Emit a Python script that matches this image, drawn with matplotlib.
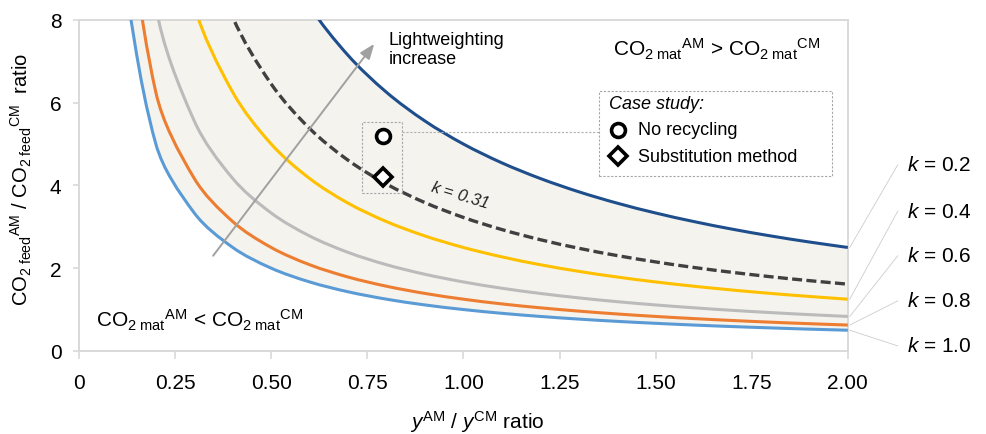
import math
import matplotlib
matplotlib.use("Agg")
import matplotlib.pyplot as plt
from matplotlib.patches import Rectangle, PathPatch
from matplotlib.path import Path

plt.rcParams['font.family'] = ['Liberation Sans', 'DejaVu Sans']
plt.rcParams['mathtext.fontset'] = 'custom'
plt.rcParams['mathtext.rm'] = 'Liberation Sans'
plt.rcParams['mathtext.it'] = 'Liberation Sans:italic'
plt.rcParams['mathtext.bf'] = 'Liberation Sans:bold'
plt.rcParams['mathtext.sf'] = 'Liberation Sans'

# ---------------- data ----------------
x_ratio = [0.1, 0.2, 0.3, 0.4, 0.5, 0.6, 0.7, 0.8, 0.9, 1.0,
           1.1, 1.2, 1.3, 1.4, 1.5, 1.6, 1.7, 1.8, 1.9, 2.0]

k_1_0 = [10, 5, 3.333, 2.5, 2, 1.667, 1.429, 1.25, 1.111, 1.0,
         0.909, 0.833, 0.769, 0.714, 0.667, 0.625, 0.588, 0.556, 0.526, 0.5]
k_0_8 = [12.5, 6.25, 4.167, 3.125, 2.5, 2.083, 1.786, 1.563, 1.389, 1.25,
         1.136, 1.042, 0.962, 0.893, 0.833, 0.781, 0.735, 0.694, 0.658, 0.625]
k_0_6 = [16.667, 8.333, 5.556, 4.167, 3.333, 2.778, 2.381, 2.083, 1.852, 1.667,
         1.515, 1.389, 1.282, 1.190, 1.111, 1.042, 0.980, 0.926, 0.877, 0.833]
k_0_4 = [25, 12.5, 8.333, 6.25, 5, 4.167, 3.571, 3.125, 2.778, 2.5,
         2.273, 2.083, 1.923, 1.786, 1.667, 1.563, 1.471, 1.389, 1.316, 1.25]
k_0_31 = [32.258, 16.129, 10.753, 8.065, 6.452, 5.376, 4.608, 4.032, 3.584, 3.226,
          2.933, 2.688, 2.481, 2.304, 2.151, 2.016, 1.898, 1.792, 1.698, 1.613]
k_0_2 = [50, 25, 16.667, 12.5, 10, 8.333, 7.143, 6.25, 5.556, 5.0,
         4.545, 4.167, 3.846, 3.571, 3.333, 3.125, 2.941, 2.778, 2.632, 2.5]

k_labels = ['0.2', '0.4', '0.6', '0.8', '1.0']
k_label_y = [4.50, 3.38, 2.30, 1.21, 0.12]

case_x = [0.79, 0.79]
case_y = [5.20, 4.20]
case_names = ['No recycling', 'Substitution method']
case_markers = ['o', 'D']

x_ticks = [0, 0.25, 0.50, 0.75, 1.00, 1.25, 1.50, 1.75, 2.00]
x_tick_labels = ['0', '0.25', '0.50', '0.75', '1.00', '1.25', '1.50', '1.75', '2.00']
y_ticks = [0, 2, 4, 6, 8]

# ---------------- styles ----------------
c_k02 = '#1F4E8C'
c_k031 = '#404040'
c_k04 = '#FFC000'
c_k06 = '#BBBBBB'
c_k08 = '#ED7D31'
c_k10 = '#5B9BD5'
frame_c = '#D9D9D9'

fig = plt.figure(figsize=(9.87, 4.35), dpi=100)
ax = fig.add_axes([0.080, 0.191, 0.779, 0.761])
ax.set_xlim(0, 2.0)
ax.set_ylim(0, 8)


def smooth_segments(xs, ys):
    """Bezier segments of a spreadsheet-style smoothed line (tension scaled by
    on-screen segment lengths) through the data points."""
    pts = list(zip(xs, ys))
    pix = ax.transData.transform(pts)
    n = len(pts)

    def dist(i, j):
        return math.hypot(pix[i][0] - pix[j][0], pix[i][1] - pix[j][1])

    verts, codes = [pts[0]], [Path.MOVETO]
    for i in range(n - 1):
        i0 = max(i - 1, 0)
        i3 = min(i + 2, n - 1)
        p0, p1, p2, p3 = pts[i0], pts[i], pts[i + 1], pts[i3]
        d01, d12, d23 = dist(i0, i), dist(i, i + 1), dist(i + 1, i3)
        f1 = d12 / (3.0 * (d01 + d12)) if d01 + d12 > 0 else 0.0
        f2 = d12 / (3.0 * (d12 + d23)) if d12 + d23 > 0 else 0.0
        c1 = (p1[0] + (p2[0] - p0[0]) * f1, p1[1] + (p2[1] - p0[1]) * f1)
        c2 = (p2[0] - (p3[0] - p1[0]) * f2, p2[1] - (p3[1] - p1[1]) * f2)
        verts += [c1, c2, p2]
        codes += [Path.CURVE4] * 3
    return verts, codes


def smooth_line(xs, ys, **kw):
    v, c = smooth_segments(xs, ys)
    ax.add_patch(PathPatch(Path(v, c), fill=False, capstyle='butt', **kw))


# shaded band between k = 1.0 and k = 0.2
v1, c1 = smooth_segments(x_ratio, k_1_0)
v2, c2 = smooth_segments(x_ratio[::-1], k_0_2[::-1])
band = Path(v1 + v2 + [v1[0]], c1 + [Path.LINETO] + c2[1:] + [Path.CLOSEPOLY])
ax.add_patch(PathPatch(band, fc='#F4F3EE', ec='none', lw=0, zorder=1))

lw = 2.2
smooth_line(x_ratio, k_1_0, ec=c_k10, lw=lw, zorder=3)
smooth_line(x_ratio, k_0_8, ec=c_k08, lw=lw, zorder=3)
smooth_line(x_ratio, k_0_6, ec=c_k06, lw=lw, zorder=3)
smooth_line(x_ratio, k_0_4, ec=c_k04, lw=lw, zorder=3)
smooth_line(x_ratio, k_0_31, ec=c_k031, lw=2.4, ls=(0, (3.0, 1.3)), zorder=3)
smooth_line(x_ratio, k_0_2, ec=c_k02, lw=lw, zorder=3)

ax.set_xticks(x_ticks)
ax.set_xticklabels(x_tick_labels)
ax.set_yticks(y_ticks)
ax.tick_params(axis='x', direction='out', length=6, width=1.2, color=frame_c,
               labelsize=15, pad=10)
ax.tick_params(axis='y', direction='out', length=4.5, width=1.2, color=frame_c,
               labelsize=15, pad=8)
for s in ax.spines.values():
    s.set_color(frame_c)
    s.set_linewidth(1.4)

ax.set_xlabel(r'$y^{\mathrm{AM}}$ / $y^{\mathrm{CM}}$ ratio', fontsize=15, va='center')
ax.xaxis.set_label_coords(0.518, -0.213)
ax.set_ylabel(r'CO$_{2\ \mathrm{feed}}{}^{\mathrm{AM}}$ / CO$_{2\ \mathrm{feed}}{}^{\mathrm{CM}}$  ratio',
              fontsize=14.5)
ax.yaxis.set_label_coords(-0.058, 0.52)

# region labels
ax.text(1.39, 7.30, r'CO$_{2\ \mathrm{mat}}{}^{\mathrm{AM}}$ > CO$_{2\ \mathrm{mat}}{}^{\mathrm{CM}}$',
        fontsize=15, ha='left', va='center', zorder=5)
ax.text(0.044, 0.75, r'CO$_{2\ \mathrm{mat}}{}^{\mathrm{AM}}$ < CO$_{2\ \mathrm{mat}}{}^{\mathrm{CM}}$',
        fontsize=15, ha='left', va='center', zorder=5)

# lightweighting arrow
ax.annotate('', xy=(0.768, 7.42), xytext=(0.349, 2.30),
            arrowprops=dict(arrowstyle='-|>,head_length=0.9,head_width=0.35',
                            color='#A0A0A0', lw=1.4, shrinkA=0, shrinkB=0),
            zorder=6)
ax.text(0.805, 7.30, 'Lightweighting\nincrease', fontsize=13, ha='left', va='center',
        linespacing=1.15, zorder=6)

# k = 0.31 label
ax.text(0.99, 3.78, r'$k$ = 0.31', fontsize=12, style='italic', rotation=-17,
        ha='center', va='center', zorder=6, color='#222222')

# case study markers
ax.add_patch(Rectangle((0.737, 3.82), 0.104, 1.715, fill=False, ec='#A6A6A6',
                       lw=0.8, ls=(0, (2, 1.5)), zorder=4))
ax.plot([0.841, 1.352], [5.29, 5.29], color='#B0B0B0', lw=0.8, ls=(0, (2, 1.5)), zorder=4)
for cx, cy, m in zip(case_x, case_y, case_markers):
    ax.plot(cx, cy, marker=m, ms=10 if m == 'o' else 9, mfc='white', mec='black',
            mew=2.6, ls='none', zorder=7)

# legend box
ax.add_patch(Rectangle((1.352, 4.23), 0.606, 2.055, fill=True, fc='white', ec='#A6A6A6',
                       lw=0.8, ls=(0, (2, 1.5)), zorder=5))
ax.text(1.378, 5.97, 'Case study:', style='italic', fontsize=13, ha='left', va='center', zorder=6)
leg_y = [5.34, 4.70]
for ly, m, name in zip(leg_y, case_markers, case_names):
    ax.plot(1.401, ly, marker=m, ms=10 if m == 'o' else 9, mfc='white', mec='black',
            mew=2.6, ls='none', zorder=7)
    ax.text(1.453, ly, name, fontsize=13, ha='left', va='center', zorder=6)

# right-side k labels with leader lines
end_vals = [k_0_2[-1], k_0_4[-1], k_0_6[-1], k_0_8[-1], k_1_0[-1]]
for lab, ly, ev in zip(k_labels, k_label_y, end_vals):
    ax.plot([2.005, 2.13], [ev, ly], color='#CCCCCC', lw=0.6, clip_on=False, zorder=2)
    ax.text(2.155, ly, r'$k$ = ' + lab, fontsize=15, ha='left', va='center', clip_on=False)

fig.savefig('out.png', dpi=100)
